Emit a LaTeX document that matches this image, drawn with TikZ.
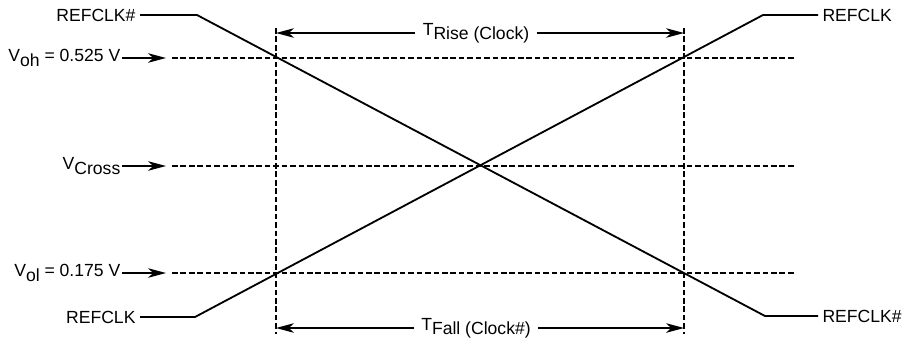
\documentclass[tikz,border=0pt]{standalone}
\usepackage{fontspec}
\setmainfont{Liberation Sans}
\usepackage{tikz}
\usetikzlibrary{arrows.meta}

\newcommand{\lowtxt}[1]{\raisebox{-0.45ex}{#1}}

\tikzset{
    sig/.style={line width=1.3pt},
    guide/.style={line width=0.9pt, dash pattern=on 4pt off 2pt},
    lbl/.style={inner sep=1pt, font=\fontsize{12.5}{14}\selectfont},
    slbl/.style={lbl, inner xsep=3pt},
    tlbl/.style={lbl, inner xsep=5pt},
    tip/.style={-{Stealth[length=4.5mm, width=2.4mm, inset=1.3mm]}, line width=0.9pt}
}

\begin{document}
\begin{tikzpicture}[x=0.025cm, y=-0.025cm]
    \useasboundingbox (0,0) rectangle (905,344);

    % signal end labels
    \node[slbl, anchor=east] at (140,15) (clkbarL) {REFCLK\#};
    \node[slbl, anchor=east] at (140,317) (clkL) {REFCLK};
    \node[slbl, anchor=west] at (818,15) (clkR) {REFCLK};
    \node[slbl, anchor=west] at (818,316) (clkbarR) {REFCLK\#};

    % level labels
    \node[lbl, anchor=east] at (122,58) (voh) {V\lowtxt{oh} = 0.525 V};
    \node[lbl, anchor=east] at (122,166) (vcross) {V\lowtxt{Cross}};
    \node[lbl, anchor=east] at (122,273) (vol) {V\lowtxt{ol} = 0.175 V};

    % timing labels
    \node[tlbl] at (476,33) (trise) {T\lowtxt{Rise (Clock)}};
    \node[tlbl] at (476,328) (tfall) {T\lowtxt{Fall (Clock\#)}};

    % corner points
    \coordinate (a1) at (197,15);
    \coordinate (a2) at (765,316);
    \coordinate (b1) at (195,317);
    \coordinate (b2) at (763,15);
    \coordinate (vL) at (276,28);
    \coordinate (vLb) at (276,334);
    \coordinate (vR) at (684,28);
    \coordinate (vRb) at (684,334);
    \coordinate (hohA) at (172,58);
    \coordinate (hohB) at (795,58);
    \coordinate (hcrA) at (172,166);
    \coordinate (hcrB) at (795,166);
    \coordinate (holA) at (172,273);
    \coordinate (holB) at (795,273);

    % guide lines
    \draw[guide] (vL) -- (vLb);
    \draw[guide] (vR) -- (vRb);
    \draw[guide] (hohA) -- (hohB);
    \draw[guide] (hcrA) -- (hcrB);
    \draw[guide] (holA) -- (holB);

    % signals
    \draw[sig] (clkbarL.east) -- (a1) -- (a2) -- (clkbarR.west);
    \draw[sig] (clkL.east) -- (b1) -- (b2) -- (clkR.west);

    % level arrows
    \draw[tip] (voh.east) -- (166,58);
    \draw[tip] (vcross.east) -- (166,166);
    \draw[tip] (vol.east) -- (166,273);

    % timing arrows
    \draw[tip] (trise.west) -- (vL |- trise);
    \draw[tip] (trise.east) -- (vR |- trise);
    \draw[tip] (tfall.west) -- (vL |- tfall);
    \draw[tip] (tfall.east) -- (vR |- tfall);
\end{tikzpicture}
\end{document}
